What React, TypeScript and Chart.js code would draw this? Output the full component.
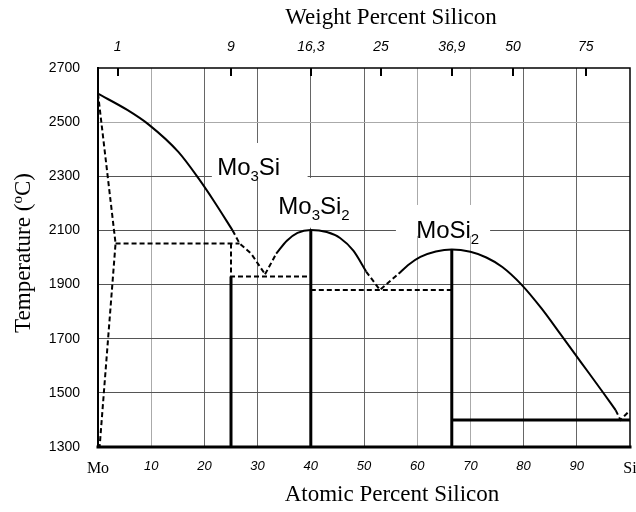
import React, { useEffect, useRef } from 'react';
import { Chart, registerables } from 'chart.js';

Chart.register(...registerables);

// ---------- axis ticks ----------
const xTickValues = [0, 10, 20, 30, 40, 50, 60, 70, 80, 90, 100];
const xTickLabels = ['Mo', '10', '20', '30', '40', '50', '60', '70', '80', '90', 'Si'];
const yTickValues = [1300, 1500, 1700, 1900, 2100, 2300, 2500, 2700];
const topTickValues = [3.7, 25, 40, 53.2, 66.5, 78, 91.7];
const topTickLabels = ['1', '9', '16,3', '25', '36,9', '50', '75'];

// ---------- phase boundaries (x: at.% Si, y: °C) ----------
// Mo-rich liquidus (solid)
const moLiquidusX = [0, 5.5, 9.6, 15.1, 18.9, 21.9, 25.3];
const moLiquidusY = [2605, 2545, 2490, 2390, 2292, 2205, 2100];
// Mo3Si side, dashed continuation down to the eutectic
const mo3SiLiqX = [25.3, 26.6, 28.8, 31.4];
const mo3SiLiqY = [2100, 2052, 2014, 1938];
// Mo3Si2 dome, dashed left foot
const mo3Si2LeftX = [31.4, 33.5];
const mo3Si2LeftY = [1938, 2014];
// Mo3Si2 dome (solid)
const mo3Si2DomeX = [33.5, 35.5, 37.5, 40, 43, 45.5, 48, 50.4];
const mo3Si2DomeY = [2014, 2062, 2091, 2102, 2094, 2072, 2025, 1948];
// eutectic valley between Mo3Si2 and MoSi2 (dashed)
const valleyX = [50.4, 53, 56.5];
const valleyY = [1948, 1880, 1940];
// MoSi2 dome and Si-side liquidus (solid)
const moSi2DomeX = [56.5, 58.5, 60.6, 63.5, 66.5, 70, 73, 76, 79.6, 83.4, 87.0, 90.9, 94.8, 97.3];
const moSi2DomeY = [1940, 1975, 2002, 2022, 2030, 2021, 2000, 1965, 1900, 1811, 1715, 1610, 1505, 1436];
// Si-side eutectic foot (dashed)
const siFootX = [97.3, 98.2, 100];
const siFootY = [1436, 1400, 1435];
// Mo solvus (dashed)
const moSolvusX = [0, 3.3, 0.3];
const moSolvusY = [2605, 2052, 1300];
// peritectic horizontal (dashed)
const peritecticX = [3.3, 26.6];
const peritecticY = [2052, 2052];
// Mo3Si dashed boundary (vertical + horizontal)
const mo3SiDashX = [25, 25, 40];
const mo3SiDashY = [2052, 1930, 1930];
// dashed horizontal under Mo3Si2 → MoSi2
const eutectic1880X = [40, 66.5];
const eutectic1880Y = [1880, 1880];
// solid compound lines
const mo3SiLineX = [25, 25];
const mo3SiLineY = [1300, 1930];
const mo3Si2LineX = [40, 40];
const mo3Si2LineY = [1300, 2102];
const moSi2LineX = [66.5, 66.5];
const moSi2LineY = [1300, 2030];
const siEutecticX = [66.5, 100];
const siEutecticY = [1400, 1400];

// ---------- phase annotations ----------
const phaseLabelParts = [
  [['Mo', 0], ['3', 1], ['Si', 0]],
  [['Mo', 0], ['3', 1], ['Si', 0], ['2', 1]],
  [['Mo', 0], ['Si', 0], ['2', 1]],
];
const phaseLabelAnchors = [
  [22.4, 2305],
  [33.9, 2161],
  [59.8, 2071],
];
// white background boxes behind labels: [xMin, xMax, yTop, yBottom]
const phaseLabelBoxes = [
  [21.4, 39.4, 2423, 2287],
  [32.0, 49.2, 2294, 2110],
  [56.0, 73.7, 2194, 2080],
];

const pts = (xs: number[], ys: number[]) => xs.map((x, i) => ({ x, y: ys[i] }));

const SANS = '"Liberation Sans", Arial, sans-serif';
const SERIF = '"Liberation Serif", "Times New Roman", serif';

function line(xs: number[], ys: number[], dashed: boolean, width = 2, smooth = false) {
  return {
    data: pts(xs, ys),
    borderColor: '#000',
    backgroundColor: '#000',
    borderWidth: width,
    borderDash: dashed ? [5, 3] : [],
    pointRadius: 0,
    fill: false,
    tension: 0,
    cubicInterpolationMode: smooth ? 'monotone' : 'default',
    xAxisID: 'x',
    yAxisID: 'y',
  };
}

const decorPlugin = {
  id: 'decor',
  beforeDatasetsDraw(chart: any) {
    const { ctx } = chart;
    const x = chart.scales.x;
    const y = chart.scales.y;
    ctx.save();
    ctx.fillStyle = '#fff';
    for (const b of phaseLabelBoxes) {
      const x0 = x.getPixelForValue(b[0]);
      const x1 = x.getPixelForValue(b[1]);
      const y0 = y.getPixelForValue(b[2]);
      const y1 = y.getPixelForValue(b[3]);
      ctx.fillRect(x0, y0, x1 - x0, y1 - y0);
    }
    ctx.restore();
  },
  afterDatasetsDraw(chart: any) {
    const { ctx, chartArea } = chart;
    const x = chart.scales.x;
    const y = chart.scales.y;
    ctx.save();
    // phase labels with subscripts
    ctx.fillStyle = '#000';
    ctx.textBaseline = 'alphabetic';
    ctx.textAlign = 'left';
    phaseLabelParts.forEach((parts, i) => {
      let px = x.getPixelForValue(phaseLabelAnchors[i][0]);
      const py = y.getPixelForValue(phaseLabelAnchors[i][1]);
      for (const [t, sub] of parts as any) {
        ctx.font = sub ? `15px ${SANS}` : `24px ${SANS}`;
        ctx.fillText(t, px, py + (sub ? 6 : 0));
        px += ctx.measureText(t).width;
      }
    });
    // frame
    const { left, right, top, bottom } = chartArea;
    ctx.strokeStyle = '#000';
    ctx.lineCap = 'square';
    ctx.lineWidth = 1.5;
    ctx.beginPath();
    ctx.moveTo(left, top);
    ctx.lineTo(right, top);
    ctx.lineTo(right, bottom);
    ctx.stroke();
    ctx.lineWidth = 2;
    ctx.beginPath();
    ctx.moveTo(left, top);
    ctx.lineTo(left, bottom);
    ctx.stroke();
    ctx.lineWidth = 3;
    ctx.beginPath();
    ctx.moveTo(left, bottom);
    ctx.lineTo(right, bottom);
    ctx.stroke();
    // inner tick marks of the top (weight %) axis
    const x2 = chart.scales.x2;
    ctx.lineWidth = 2;
    ctx.lineCap = 'butt';
    for (const v of topTickValues) {
      const p = Math.round(x2.getPixelForValue(v));
      ctx.beginPath();
      ctx.moveTo(p, top);
      ctx.lineTo(p, top + 8);
      ctx.stroke();
    }
    ctx.restore();
  },
  afterDraw(chart: any) {
    const { ctx } = chart;
    ctx.save();
    ctx.fillStyle = '#000';
    ctx.font = `23px ${SERIF}`;
    ctx.textAlign = 'center';
    ctx.textBaseline = 'middle';
    ctx.fillText('Weight Percent Silicon', 391, 18);
    ctx.fillText('Atomic Percent Silicon', 392, 495);
    // rotated y title with superscript o
    ctx.translate(22, 253);
    ctx.rotate(-Math.PI / 2);
    ctx.textAlign = 'left';
    ctx.textBaseline = 'alphabetic';
    const a = 'Temperature (';
    const s = 'o';
    const c = 'C)';
    ctx.font = `23px ${SERIF}`;
    const wa = ctx.measureText(a).width;
    const wc = ctx.measureText(c).width;
    ctx.font = `15px ${SERIF}`;
    const ws = ctx.measureText(s).width;
    let px = -(wa + ws + wc) / 2;
    const base = 8;
    ctx.font = `23px ${SERIF}`;
    ctx.fillText(a, px, base);
    px += wa;
    ctx.font = `15px ${SERIF}`;
    ctx.fillText(s, px, base - 8);
    px += ws;
    ctx.font = `23px ${SERIF}`;
    ctx.fillText(c, px, base);
    ctx.restore();
  },
};

export default function App() {
  const ref = useRef<HTMLCanvasElement | null>(null);
  useEffect(() => {
    if (!ref.current) return;
    const datasets: any[] = [
      line(moLiquidusX, moLiquidusY, false, 2, true),
      line(mo3SiLiqX, mo3SiLiqY, true),
      line(mo3Si2LeftX, mo3Si2LeftY, true),
      line(mo3Si2DomeX, mo3Si2DomeY, false, 2, true),
      line(valleyX, valleyY, true),
      line(moSi2DomeX, moSi2DomeY, false, 2, true),
      line(siFootX, siFootY, true),
      line(moSolvusX, moSolvusY, true),
      line(peritecticX, peritecticY, true),
      line(mo3SiDashX, mo3SiDashY, true),
      line(eutectic1880X, eutectic1880Y, true),
      line(mo3SiLineX, mo3SiLineY, false, 3),
      line(mo3Si2LineX, mo3Si2LineY, false, 3),
      line(moSi2LineX, moSi2LineY, false, 3),
      line(siEutecticX, siEutecticY, false, 3),
    ];
    const chart = new Chart(ref.current, {
      type: 'line',
      data: { datasets },
      plugins: [decorPlugin as any],
      options: {
        animation: false,
        responsive: false,
        devicePixelRatio: 1,
        layout: { padding: { left: 0, right: 6, top: 0, bottom: 0 } },
        plugins: {
          legend: { display: false },
          tooltip: { enabled: false },
          title: { display: false },
        },
        scales: {
          x: {
            type: 'linear',
            position: 'bottom',
            min: 0,
            max: 100,
            afterBuildTicks: (s: any) => {
              s.ticks = xTickValues.map((v) => ({ value: v }));
            },
            afterFit: (s: any) => {
              s.height = 65;
              s.paddingLeft = 0;
              s.paddingRight = 0;
            },
            ticks: {
              autoSkip: false,
              maxRotation: 0,
              padding: 12,
              color: '#000',
              callback: (_v: any, i: number) => xTickLabels[i],
              font: (ctx: any) => {
                const v = ctx.tick ? ctx.tick.value : 50;
                return v === 0 || v === 100
                  ? { family: SERIF, size: 16, style: 'normal' }
                  : { family: SANS, size: 13, style: 'italic' };
              },
            },
            grid: {
              drawTicks: false,
              lineWidth: 1,
              color: (ctx: any) => {
                const v = ctx.tick ? ctx.tick.value : 50;
                if (v === 0 || v === 100) return 'rgba(0,0,0,0)';
                if (v === 10 || v === 60 || v === 70) return '#aaa';
                return '#666';
              },
            },
            border: { display: false },
          },
          x2: {
            type: 'linear',
            position: 'top',
            min: 0,
            max: 100,
            afterBuildTicks: (s: any) => {
              s.ticks = topTickValues.map((v) => ({ value: v }));
            },
            afterFit: (s: any) => {
              s.height = 68;
              s.paddingLeft = 0;
              s.paddingRight = 0;
            },
            ticks: {
              autoSkip: false,
              maxRotation: 0,
              padding: 12,
              color: '#000',
              callback: (_v: any, i: number) => topTickLabels[i],
              font: { family: SANS, size: 14, style: 'italic' },
            },
            grid: { drawOnChartArea: false, drawTicks: false },
            border: { display: false },
          },
          y: {
            type: 'linear',
            position: 'left',
            min: 1300,
            max: 2700,
            afterBuildTicks: (s: any) => {
              s.ticks = yTickValues.map((v) => ({ value: v }));
            },
            afterFit: (s: any) => {
              s.width = 98;
              s.paddingTop = 0;
              s.paddingBottom = 0;
            },
            ticks: {
              padding: 18,
              color: '#000',
              font: { family: SANS, size: 14 },
              callback: (v: any) => String(v),
            },
            grid: {
              drawTicks: false,
              lineWidth: 1,
              color: (ctx: any) => {
                const v = ctx.tick ? ctx.tick.value : 2000;
                if (v === 1300 || v === 2700) return 'rgba(0,0,0,0)';
                if (v === 2500) return '#aaa';
                return '#555';
              },
            },
            border: { display: false },
          },
        },
      } as any,
    });
    return () => chart.destroy();
  }, []);
  return (
    <div style={{ position: 'fixed', left: 0, top: 0, width: 636, height: 512, background: '#fff' }}>
      <canvas ref={ref} width={636} height={512} style={{ width: 636, height: 512, display: 'block' }} />
    </div>
  );
}
